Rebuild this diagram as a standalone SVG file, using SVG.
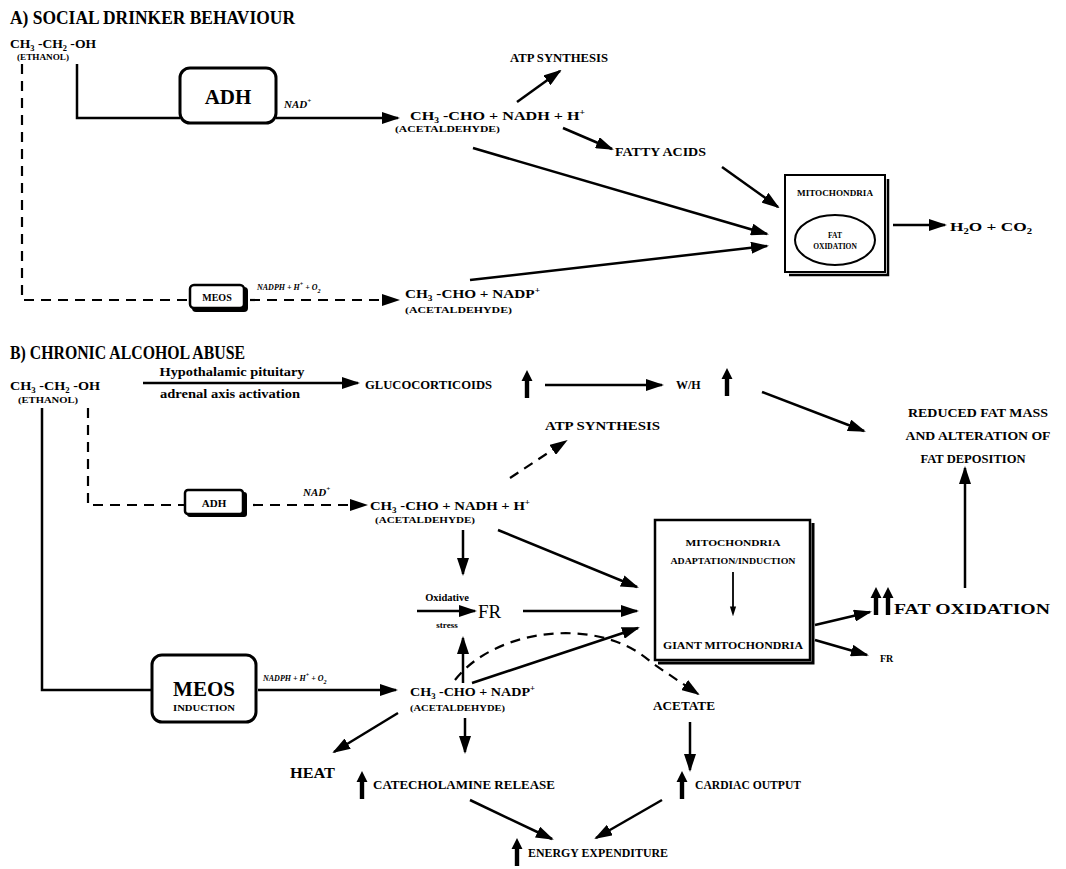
<svg xmlns="http://www.w3.org/2000/svg" width="1066" height="869" viewBox="0 0 1066 869">
<defs>
<style>
text{font-family:"Liberation Serif","Times New Roman",serif;font-weight:bold;fill:#000}
.ln{fill:none;stroke:#000;stroke-width:2.5}
.ds{fill:none;stroke:#000;stroke-width:2.2;stroke-dasharray:10 7}
.ar{marker-end:url(#ah)}
.box{fill:#fff;stroke:#000;stroke-width:3}
.it{font-style:italic}
.m{text-anchor:middle}
</style>
<marker id="ah" markerUnits="userSpaceOnUse" markerWidth="18" markerHeight="12" refX="16" refY="6" orient="auto" viewBox="0 0 18 12"><path d="M0,0 L18,6 L0,12 Z"/></marker>
<marker id="ahs" markerUnits="userSpaceOnUse" markerWidth="10" markerHeight="16" refX="9" refY="5" orient="auto" viewBox="0 0 16 10"><path d="M0,0 L16,5 L0,10 Z"/></marker>
<path id="up" d="M0,-14 L5.5,-3 L2.2,-3 L2.2,14 L-2.2,14 L-2.2,-3 L-5.5,-3 Z"/>
</defs>
<rect width="1066" height="869" fill="#fff"/>

<g id="connectors">
<path class="ds" d="M22,64 V300 H188"/>
<path class="ln" d="M77,64 V118 H180"/>
<path class="ln ar" d="M276,118 H398"/>
<path class="ln ar" d="M517,102 L560,71"/>
<path class="ln ar" d="M563,128 L612,149"/>
<path class="ln ar" d="M473,148 L767,234"/>
<path class="ln ar" d="M722,167 L778,207"/>
<path class="ln ar" d="M470,280 L767,246"/>
<path class="ln ar" d="M893,225 H945"/>
<path class="ds ar" d="M250,300 H398"/>
<path class="ln ar" d="M143,383 H358"/>
<path class="ln ar" d="M545,385 H662"/>
<path class="ln ar" d="M762,392 L864,431"/>
<path class="ds ar" d="M510,478 L566,441"/>
<path class="ds" d="M88,408 V505 H185"/>
<path class="ds ar" d="M253,505 H366"/>
<path class="ln ar" d="M463,530 V574"/>
<path class="ln ar" d="M498,530 L637,587"/>
<path class="ln ar" d="M417,611 H475"/>
<path class="ln ar" d="M523,611 H637"/>
<path class="ln ar" d="M463,683 V638"/>
<path class="ln ar" d="M472,683 L638,628"/>
<path class="ds ar" d="M455,680 C495,628 600,615 652,663 L698,694"/>
<path class="ln ar" d="M815,625 L870,612"/>
<path class="ln ar" d="M815,640 L867,655"/>
<path class="ln ar" d="M965,588 V468"/>
<path class="ln" d="M42,408 V690 H152"/>
<path class="ln ar" d="M258,690 H396"/>
<path class="ln ar" d="M398,713 L334,752"/>
<path class="ln ar" d="M465,718 V752"/>
<path class="ln ar" d="M690,722 V770"/>
<path class="ln ar" d="M470,800 L552,839"/>
<path class="ln ar" d="M662,800 L596,838"/>
</g>

<g id="titleA"><text x="10" y="24" font-size="18" textLength="285" lengthAdjust="spacingAndGlyphs">A) SOCIAL DRINKER BEHAVIOUR</text></g>

<g id="ethanolA">
<text x="10" y="48" font-size="13" textLength="86" lengthAdjust="spacingAndGlyphs">CH<tspan font-size="8" dy="3">3</tspan><tspan dy="-3"> -CH</tspan><tspan font-size="8" dy="3">2</tspan><tspan dy="-3"> -OH</tspan></text>
<text x="17" y="60" font-size="8" textLength="52" lengthAdjust="spacingAndGlyphs">(ETHANOL)</text>
</g>

<g id="adhA">
<rect class="box" x="180" y="68" width="96" height="55" rx="10"/>
<text class="m" x="228" y="104" font-size="21">ADH</text>
<text class="it" x="284" y="108" font-size="11">NAD<tspan font-size="7" dy="-5">+</tspan></text>
</g>

<g id="acetA1">
<text x="410" y="120" font-size="13.5" textLength="175" lengthAdjust="spacingAndGlyphs">CH<tspan font-size="8" dy="3">3</tspan><tspan dy="-3">  -CHO + NADH + H</tspan><tspan font-size="8" dy="-5">+</tspan></text>
<text x="395" y="132" font-size="8" textLength="105" lengthAdjust="spacingAndGlyphs">(ACETALDEHYDE)</text>
</g>

<g id="atpA"><text x="510" y="62" font-size="12" textLength="98" lengthAdjust="spacingAndGlyphs">ATP SYNTHESIS</text></g>
<g id="fattyA"><text x="615" y="156" font-size="12.5" textLength="91" lengthAdjust="spacingAndGlyphs">FATTY ACIDS</text></g>

<g id="mitoA">
<path d="M888,179 V275 H789" fill="none" stroke="#000" stroke-width="2.5"/>
<rect x="785" y="175" width="100" height="97" fill="#fff" stroke="#000" stroke-width="2"/>
<text class="m" x="835" y="196" font-size="8" textLength="76" lengthAdjust="spacingAndGlyphs">MITOCHONDRIA</text>
<ellipse cx="835" cy="240" rx="40" ry="25" fill="none" stroke="#000" stroke-width="2"/>
<text class="m" x="835" y="238" font-size="7.5">FAT</text>
<text class="m" x="835" y="249" font-size="7.5">OXIDATION</text>
</g>

<g id="h2oA"><text x="950" y="231" font-size="13" textLength="82" lengthAdjust="spacingAndGlyphs">H<tspan font-size="8" dy="3">2</tspan><tspan dy="-3">O + CO</tspan><tspan font-size="8" dy="3">2</tspan></text></g>

<g id="meosA">
<rect x="192" y="287" width="56" height="25" rx="4" fill="#000"/>
<rect x="190" y="285" width="54" height="23" rx="4" fill="#fff" stroke="#000" stroke-width="2.5"/>
<text class="m" x="217" y="301" font-size="10">MEOS</text>
<text class="it" x="257" y="290" font-size="8">NADPH + H<tspan font-size="6" dy="-4">+</tspan><tspan dy="4"> + O</tspan><tspan font-size="6" dy="3">2</tspan></text>
</g>

<g id="acetA2">
<text x="405" y="298" font-size="13" textLength="135" lengthAdjust="spacingAndGlyphs">CH<tspan font-size="8" dy="3">3</tspan><tspan dy="-3">  -CHO + NADP</tspan><tspan font-size="8" dy="-5">+</tspan></text>
<text x="405" y="313" font-size="8" textLength="107" lengthAdjust="spacingAndGlyphs">(ACETALDEHYDE)</text>
</g>

<g id="titleB"><text x="10" y="359" font-size="18" textLength="235" lengthAdjust="spacingAndGlyphs">B) CHRONIC ALCOHOL ABUSE</text></g>

<g id="ethanolB">
<text x="10" y="390" font-size="13" textLength="90" lengthAdjust="spacingAndGlyphs">CH<tspan font-size="8" dy="3">3</tspan><tspan dy="-3"> -CH</tspan><tspan font-size="8" dy="3">2</tspan><tspan dy="-3"> -OH</tspan></text>
<text x="18" y="403" font-size="8" textLength="60" lengthAdjust="spacingAndGlyphs">(ETHANOL)</text>
</g>

<g id="hpa">
<text class="m" x="232" y="376" font-size="11.5" textLength="145" lengthAdjust="spacingAndGlyphs">Hypothalamic  pituitary</text>
<text class="m" x="230" y="398" font-size="11.5" textLength="140" lengthAdjust="spacingAndGlyphs">adrenal  axis  activation</text>
</g>

<g id="gluco">
<text x="365" y="389" font-size="13" textLength="127" lengthAdjust="spacingAndGlyphs">GLUCOCORTICOIDS</text>
<use href="#up" x="527" y="384"/>
</g>

<g id="wh">
<text x="676" y="389" font-size="12">W/H</text>
<use href="#up" x="727" y="382"/>
</g>

<g id="reduced">
<text class="m" x="978" y="417" font-size="13.5" textLength="140" lengthAdjust="spacingAndGlyphs">REDUCED FAT MASS</text>
<text class="m" x="978" y="440" font-size="13.5" textLength="145" lengthAdjust="spacingAndGlyphs">AND ALTERATION OF</text>
<text class="m" x="973" y="463" font-size="13.5" textLength="105" lengthAdjust="spacingAndGlyphs">FAT DEPOSITION</text>
</g>

<g id="atpB"><text x="545" y="430" font-size="13" textLength="115" lengthAdjust="spacingAndGlyphs">ATP SYNTHESIS</text></g>

<g id="adhB">
<rect x="187" y="492" width="60" height="25" rx="3" fill="#000"/>
<rect x="185" y="490" width="58" height="24" rx="3" fill="#fff" stroke="#000" stroke-width="2.5"/>
<text class="m" x="214" y="507" font-size="11">ADH</text>
<text class="it" x="303" y="496" font-size="11">NAD<tspan font-size="7" dy="-5">+</tspan></text>
</g>

<g id="acetB1">
<text x="370" y="510" font-size="13" textLength="160" lengthAdjust="spacingAndGlyphs">CH<tspan font-size="8" dy="3">3</tspan><tspan dy="-3">  -CHO + NADH + H</tspan><tspan font-size="8" dy="-5">+</tspan></text>
<text x="375" y="523" font-size="8" textLength="100" lengthAdjust="spacingAndGlyphs">(ACETALDEHYDE)</text>
</g>

<g id="oxstress">
<text class="m" x="447" y="601" font-size="10.5">Oxidative</text>
<text class="m" x="447" y="628" font-size="9">stress</text>
</g>

<g id="fr1"><text x="478" y="618" font-size="19" style="font-weight:normal">FR</text></g>

<g id="mitoB">
<path d="M813,523 V663 H658" fill="none" stroke="#000" stroke-width="3"/>
<rect x="655" y="520" width="155" height="140" fill="#fff" stroke="#000" stroke-width="2.5"/>
<text class="m" x="733" y="546" font-size="8.5" textLength="95" lengthAdjust="spacingAndGlyphs">MITOCHONDRIA</text>
<text class="m" x="733" y="564" font-size="8.5" textLength="125" lengthAdjust="spacingAndGlyphs">ADAPTATION/INDUCTION</text>
<path d="M733,572 V612" fill="none" stroke="#000" stroke-width="1.8" marker-end="url(#ahs)"/>
<text class="m" x="733" y="649" font-size="10" textLength="140" lengthAdjust="spacingAndGlyphs">GIANT MITOCHONDRIA</text>
</g>

<g id="fatox">
<use href="#up" x="876" y="601"/>
<use href="#up" x="888" y="601"/>
<text x="894" y="614" font-size="14" textLength="156" lengthAdjust="spacingAndGlyphs">FAT OXIDATION</text>
</g>

<g id="fr2"><text x="880" y="662" font-size="10">FR</text></g>

<g id="meosB">
<rect class="box" x="152" y="655" width="104" height="67" rx="10"/>
<text class="m" x="204" y="696" font-size="21">MEOS</text>
<text class="m" x="204" y="711" font-size="8" textLength="62" lengthAdjust="spacingAndGlyphs">INDUCTION</text>
<text class="it" x="263" y="681" font-size="8">NADPH + H<tspan font-size="6" dy="-4">+</tspan><tspan dy="4"> + O</tspan><tspan font-size="6" dy="3">2</tspan></text>
</g>

<g id="acetB2">
<text x="410" y="696" font-size="13" textLength="125" lengthAdjust="spacingAndGlyphs">CH<tspan font-size="8" dy="3">3</tspan><tspan dy="-3"> -CHO + NADP</tspan><tspan font-size="8" dy="-5">+</tspan></text>
<text x="410" y="711" font-size="8" textLength="95" lengthAdjust="spacingAndGlyphs">(ACETALDEHYDE)</text>
</g>

<g id="acetate"><text x="653" y="710" font-size="12.5" textLength="62" lengthAdjust="spacingAndGlyphs">ACETATE</text></g>

<g id="heat"><text x="290" y="778" font-size="14" textLength="45" lengthAdjust="spacingAndGlyphs">HEAT</text></g>

<g id="catechol">
<use href="#up" x="362" y="785"/>
<text x="373" y="789" font-size="13" textLength="182" lengthAdjust="spacingAndGlyphs">CATECHOLAMINE  RELEASE</text>
</g>

<g id="cardiac">
<use href="#up" x="682" y="785"/>
<text x="695" y="789" font-size="13" textLength="106" lengthAdjust="spacingAndGlyphs">CARDIAC OUTPUT</text>
</g>

<g id="energy">
<use href="#up" x="517" y="852"/>
<text x="528" y="857" font-size="13" textLength="140" lengthAdjust="spacingAndGlyphs">ENERGY EXPENDITURE</text>
</g>
</svg>
